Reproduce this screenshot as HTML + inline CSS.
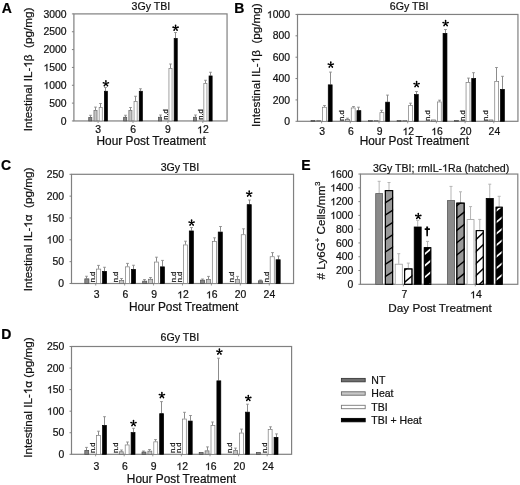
<!DOCTYPE html><html><head><meta charset="utf-8"><style>html,body{margin:0;padding:0;background:#fff;width:520px;height:485px;overflow:hidden}body{position:relative;font-family:"Liberation Sans", sans-serif}svg text{stroke:#111;stroke-width:0.22px;paint-order:stroke}tspan.one{fill:none;stroke:none}svg g path{stroke:#111;stroke-width:0.22px;vector-effect:non-scaling-stroke}</style></head><body><svg width="520" height="485" viewBox="0 0 520 485" style="position:absolute;left:0;top:0;filter:grayscale(1);font-family:&quot;Liberation Sans&quot;, sans-serif;fill:#111111">
<rect width="520" height="485" fill="#fff"/>
<rect x="73.9" y="13.9" width="153.15" height="107.05" fill="none" stroke="#808080" stroke-width="1.2"/>
<line x1="71.9" y1="120.95" x2="73.9" y2="120.95" stroke="#808080" stroke-width="1"/>
<text x="66.6" y="124.55" font-size="10.4" text-anchor="end">0</text>
<line x1="71.9" y1="103.11" x2="73.9" y2="103.11" stroke="#808080" stroke-width="1"/>
<text x="66.6" y="106.71" font-size="10.4" text-anchor="end">500</text>
<line x1="71.9" y1="85.27" x2="73.9" y2="85.27" stroke="#808080" stroke-width="1"/>
<text x="66.6" y="88.87" font-size="10.4" text-anchor="end"><tspan class="one">1</tspan>000</text>
<g><path d="M763 0L583 0L583 1098Q518 1039 415 981Q312 923 222 890L222 1057Q373 1125 484.5 1221Q596 1317 648 1409L763 1409Z" transform="translate(43.475,88.870) scale(0.005078,-0.005078)"/></g>
<line x1="71.9" y1="67.43" x2="73.9" y2="67.43" stroke="#808080" stroke-width="1"/>
<text x="66.6" y="71.03" font-size="10.4" text-anchor="end"><tspan class="one">1</tspan>500</text>
<g><path d="M763 0L583 0L583 1098Q518 1039 415 981Q312 923 222 890L222 1057Q373 1125 484.5 1221Q596 1317 648 1409L763 1409Z" transform="translate(43.475,71.030) scale(0.005078,-0.005078)"/></g>
<line x1="71.9" y1="49.58" x2="73.9" y2="49.58" stroke="#808080" stroke-width="1"/>
<text x="66.6" y="53.18" font-size="10.4" text-anchor="end">2000</text>
<line x1="71.9" y1="31.74" x2="73.9" y2="31.74" stroke="#808080" stroke-width="1"/>
<text x="66.6" y="35.34" font-size="10.4" text-anchor="end">2500</text>
<line x1="71.9" y1="13.90" x2="73.9" y2="13.90" stroke="#808080" stroke-width="1"/>
<text x="66.6" y="17.50" font-size="10.4" text-anchor="end">3000</text>
<line x1="98.10" y1="120.95" x2="98.10" y2="122.95" stroke="#808080" stroke-width="0.8"/>
<line x1="133.00" y1="120.95" x2="133.00" y2="122.95" stroke="#808080" stroke-width="0.8"/>
<line x1="167.90" y1="120.95" x2="167.90" y2="122.95" stroke="#808080" stroke-width="0.8"/>
<line x1="202.80" y1="120.95" x2="202.80" y2="122.95" stroke="#808080" stroke-width="0.8"/>
<line x1="90.50" y1="115.30" x2="90.50" y2="117.10" stroke="#8c8c8c" stroke-width="1"/>
<line x1="89.10" y1="115.30" x2="91.90" y2="115.30" stroke="#8c8c8c" stroke-width="0.9"/>
<rect x="88.75" y="117.45" width="3.10" height="3.50" fill="#858585" stroke="#4a4a4a" stroke-width="0.7"/>
<line x1="95.50" y1="107.10" x2="95.50" y2="110.00" stroke="#8c8c8c" stroke-width="1"/>
<line x1="94.10" y1="107.10" x2="96.90" y2="107.10" stroke="#8c8c8c" stroke-width="0.9"/>
<rect x="93.95" y="110.35" width="3.10" height="10.60" fill="#c4c4c4" stroke="#6a6a6a" stroke-width="0.7"/>
<line x1="100.50" y1="103.50" x2="100.50" y2="107.25" stroke="#8c8c8c" stroke-width="1"/>
<line x1="99.10" y1="103.50" x2="101.90" y2="103.50" stroke="#8c8c8c" stroke-width="0.9"/>
<rect x="99.15" y="107.60" width="3.10" height="13.35" fill="#ffffff" stroke="#7a7a7a" stroke-width="0.7"/>
<line x1="105.50" y1="87.50" x2="105.50" y2="90.90" stroke="#8c8c8c" stroke-width="1"/>
<line x1="104.10" y1="87.50" x2="106.90" y2="87.50" stroke="#8c8c8c" stroke-width="0.9"/>
<rect x="104.35" y="91.25" width="3.10" height="29.70" fill="#000000" stroke="#000000" stroke-width="0.7"/>
<line x1="125.50" y1="115.25" x2="125.50" y2="116.90" stroke="#8c8c8c" stroke-width="1"/>
<line x1="124.10" y1="115.25" x2="126.90" y2="115.25" stroke="#8c8c8c" stroke-width="0.9"/>
<rect x="123.65" y="117.25" width="3.10" height="3.70" fill="#858585" stroke="#4a4a4a" stroke-width="0.7"/>
<line x1="130.50" y1="107.50" x2="130.50" y2="110.25" stroke="#8c8c8c" stroke-width="1"/>
<line x1="129.10" y1="107.50" x2="131.90" y2="107.50" stroke="#8c8c8c" stroke-width="0.9"/>
<rect x="128.85" y="110.60" width="3.10" height="10.35" fill="#c4c4c4" stroke="#6a6a6a" stroke-width="0.7"/>
<line x1="135.50" y1="96.25" x2="135.50" y2="101.25" stroke="#8c8c8c" stroke-width="1"/>
<line x1="134.10" y1="96.25" x2="136.90" y2="96.25" stroke="#8c8c8c" stroke-width="0.9"/>
<rect x="134.05" y="101.60" width="3.10" height="19.35" fill="#ffffff" stroke="#7a7a7a" stroke-width="0.7"/>
<line x1="140.50" y1="88.75" x2="140.50" y2="90.90" stroke="#8c8c8c" stroke-width="1"/>
<line x1="139.10" y1="88.75" x2="141.90" y2="88.75" stroke="#8c8c8c" stroke-width="0.9"/>
<rect x="139.25" y="91.25" width="3.10" height="29.70" fill="#000000" stroke="#000000" stroke-width="0.7"/>
<line x1="160.50" y1="115.00" x2="160.50" y2="116.90" stroke="#8c8c8c" stroke-width="1"/>
<line x1="159.10" y1="115.00" x2="161.90" y2="115.00" stroke="#8c8c8c" stroke-width="0.9"/>
<rect x="158.55" y="117.25" width="3.10" height="3.70" fill="#858585" stroke="#4a4a4a" stroke-width="0.7"/>
<text transform="translate(167.80,119.75) rotate(-90)" font-size="7.6" text-anchor="start" stroke="#111111" stroke-width="0.25">n.d</text>
<line x1="170.50" y1="64.00" x2="170.50" y2="68.10" stroke="#8c8c8c" stroke-width="1"/>
<line x1="169.10" y1="64.00" x2="171.90" y2="64.00" stroke="#8c8c8c" stroke-width="0.9"/>
<rect x="168.95" y="68.45" width="3.10" height="52.50" fill="#ffffff" stroke="#7a7a7a" stroke-width="0.7"/>
<line x1="175.50" y1="32.50" x2="175.50" y2="38.10" stroke="#8c8c8c" stroke-width="1"/>
<line x1="174.10" y1="32.50" x2="176.90" y2="32.50" stroke="#8c8c8c" stroke-width="0.9"/>
<rect x="174.15" y="38.45" width="3.10" height="82.50" fill="#000000" stroke="#000000" stroke-width="0.7"/>
<line x1="195.50" y1="115.00" x2="195.50" y2="116.90" stroke="#8c8c8c" stroke-width="1"/>
<line x1="194.10" y1="115.00" x2="196.90" y2="115.00" stroke="#8c8c8c" stroke-width="0.9"/>
<rect x="193.45" y="117.25" width="3.10" height="3.70" fill="#858585" stroke="#4a4a4a" stroke-width="0.7"/>
<text transform="translate(202.70,119.75) rotate(-90)" font-size="7.6" text-anchor="start" stroke="#111111" stroke-width="0.25">n.d</text>
<line x1="205.50" y1="80.25" x2="205.50" y2="83.10" stroke="#8c8c8c" stroke-width="1"/>
<line x1="204.10" y1="80.25" x2="206.90" y2="80.25" stroke="#8c8c8c" stroke-width="0.9"/>
<rect x="203.85" y="83.45" width="3.10" height="37.50" fill="#ffffff" stroke="#7a7a7a" stroke-width="0.7"/>
<line x1="210.50" y1="72.25" x2="210.50" y2="75.60" stroke="#8c8c8c" stroke-width="1"/>
<line x1="209.10" y1="72.25" x2="211.90" y2="72.25" stroke="#8c8c8c" stroke-width="0.9"/>
<rect x="209.05" y="75.95" width="3.10" height="45.00" fill="#000000" stroke="#000000" stroke-width="0.7"/>
<path class="st" d="M106.30 83.60L106.75 80.90A0.85 0.85 0 0 0 105.05 80.90L105.50 83.60ZM106.02 83.98L108.73 83.57A0.85 0.85 0 0 0 108.21 81.96L105.78 83.22ZM105.58 83.84L106.80 86.28A0.85 0.85 0 0 0 108.17 85.28L106.22 83.36ZM105.58 83.36L103.63 85.28A0.85 0.85 0 0 0 105.00 86.28L106.22 83.84ZM106.02 83.22L103.59 81.96A0.85 0.85 0 0 0 103.07 83.57L105.78 83.98Z" fill="#000"/>
<path class="st" d="M176.00 28.00L176.45 25.30A0.85 0.85 0 0 0 174.75 25.30L175.20 28.00ZM175.72 28.38L178.43 27.97A0.85 0.85 0 0 0 177.91 26.36L175.48 27.62ZM175.28 28.24L176.50 30.68A0.85 0.85 0 0 0 177.87 29.68L175.92 27.76ZM175.28 27.76L173.33 29.68A0.85 0.85 0 0 0 174.70 30.68L175.92 28.24ZM175.72 27.62L173.29 26.36A0.85 0.85 0 0 0 172.77 27.97L175.48 28.38Z" fill="#000"/>
<text x="98.19999999999999" y="133.3" font-size="10.4" text-anchor="middle" >3</text>
<text x="133.1" y="133.3" font-size="10.4" text-anchor="middle" >6</text>
<text x="168.0" y="133.3" font-size="10.4" text-anchor="middle" >9</text>
<text x="202.9" y="133.3" font-size="10.4" text-anchor="middle" ><tspan class="one">1</tspan>2</text>
<g><path d="M763 0L583 0L583 1098Q518 1039 415 981Q312 923 222 890L222 1057Q373 1125 484.5 1221Q596 1317 648 1409L763 1409Z" transform="translate(197.119,133.300) scale(0.005078,-0.005078)"/></g>
<text x="151.2" y="145.2" font-size="11.85" text-anchor="middle" >Hour Post Treatment</text>
<text x="150.9" y="9.8" font-size="10.6" text-anchor="middle" >3Gy TBI</text>
<text transform="translate(32,69.5) rotate(-90)" font-size="11.7" text-anchor="middle" >Intestinal IL-<tspan class="one">1</tspan>β  (pg/mg)</text>
<g transform="translate(32,69.5) rotate(-90)"><path d="M763 0L583 0L583 1098Q518 1039 415 981Q312 923 222 890L222 1057Q373 1125 484.5 1221Q596 1317 648 1409L763 1409Z" transform="translate(1.836,0.000) scale(0.005713,-0.005713)"/></g>
<text x="1.7" y="13.0" font-size="14" text-anchor="start" font-weight="bold" fill="#000">A</text>
<rect x="297.5" y="14.45" width="220.45" height="106.85" fill="none" stroke="#808080" stroke-width="1.2"/>
<line x1="295.5" y1="121.30" x2="297.5" y2="121.30" stroke="#808080" stroke-width="1"/>
<text x="290.0" y="124.90" font-size="10.4" text-anchor="end">0</text>
<line x1="295.5" y1="99.93" x2="297.5" y2="99.93" stroke="#808080" stroke-width="1"/>
<text x="290.0" y="103.53" font-size="10.4" text-anchor="end">200</text>
<line x1="295.5" y1="78.56" x2="297.5" y2="78.56" stroke="#808080" stroke-width="1"/>
<text x="290.0" y="82.16" font-size="10.4" text-anchor="end">400</text>
<line x1="295.5" y1="57.19" x2="297.5" y2="57.19" stroke="#808080" stroke-width="1"/>
<text x="290.0" y="60.79" font-size="10.4" text-anchor="end">600</text>
<line x1="295.5" y1="35.82" x2="297.5" y2="35.82" stroke="#808080" stroke-width="1"/>
<text x="290.0" y="39.42" font-size="10.4" text-anchor="end">800</text>
<line x1="295.5" y1="14.45" x2="297.5" y2="14.45" stroke="#808080" stroke-width="1"/>
<text x="290.0" y="18.05" font-size="10.4" text-anchor="end"><tspan class="one">1</tspan>000</text>
<g><path d="M763 0L583 0L583 1098Q518 1039 415 981Q312 923 222 890L222 1057Q373 1125 484.5 1221Q596 1317 648 1409L763 1409Z" transform="translate(266.875,18.050) scale(0.005078,-0.005078)"/></g>
<line x1="321.60" y1="121.30" x2="321.60" y2="123.30" stroke="#808080" stroke-width="0.8"/>
<line x1="350.30" y1="121.30" x2="350.30" y2="123.30" stroke="#808080" stroke-width="0.8"/>
<line x1="379.00" y1="121.30" x2="379.00" y2="123.30" stroke="#808080" stroke-width="0.8"/>
<line x1="407.70" y1="121.30" x2="407.70" y2="123.30" stroke="#808080" stroke-width="0.8"/>
<line x1="436.40" y1="121.30" x2="436.40" y2="123.30" stroke="#808080" stroke-width="0.8"/>
<line x1="465.10" y1="121.30" x2="465.10" y2="123.30" stroke="#808080" stroke-width="0.8"/>
<line x1="493.80" y1="121.30" x2="493.80" y2="123.30" stroke="#808080" stroke-width="0.8"/>
<rect x="311.05" y="120.55" width="3.90" height="0.75" fill="#858585" stroke="#4a4a4a" stroke-width="0.7"/>
<rect x="316.75" y="120.55" width="3.90" height="0.75" fill="#c4c4c4" stroke="#6a6a6a" stroke-width="0.7"/>
<line x1="324.50" y1="105.50" x2="324.50" y2="106.90" stroke="#8c8c8c" stroke-width="1"/>
<line x1="323.10" y1="105.50" x2="325.90" y2="105.50" stroke="#8c8c8c" stroke-width="0.9"/>
<rect x="322.55" y="107.25" width="3.90" height="14.05" fill="#ffffff" stroke="#7a7a7a" stroke-width="0.7"/>
<line x1="330.50" y1="72.10" x2="330.50" y2="84.50" stroke="#8c8c8c" stroke-width="1"/>
<line x1="329.10" y1="72.10" x2="331.90" y2="72.10" stroke="#8c8c8c" stroke-width="0.9"/>
<rect x="328.25" y="84.85" width="3.90" height="36.45" fill="#000000" stroke="#000000" stroke-width="0.7"/>
<text transform="translate(344.20,120.90) rotate(-90)" font-size="7.6" text-anchor="start" stroke="#111111" stroke-width="0.25">n.d</text>
<line x1="347.50" y1="118.20" x2="347.50" y2="119.00" stroke="#8c8c8c" stroke-width="1"/>
<line x1="346.10" y1="118.20" x2="348.90" y2="118.20" stroke="#8c8c8c" stroke-width="0.9"/>
<rect x="345.45" y="119.35" width="3.90" height="1.95" fill="#c4c4c4" stroke="#6a6a6a" stroke-width="0.7"/>
<line x1="353.50" y1="106.50" x2="353.50" y2="107.60" stroke="#8c8c8c" stroke-width="1"/>
<line x1="352.10" y1="106.50" x2="354.90" y2="106.50" stroke="#8c8c8c" stroke-width="0.9"/>
<rect x="351.25" y="107.95" width="3.90" height="13.35" fill="#ffffff" stroke="#7a7a7a" stroke-width="0.7"/>
<line x1="358.50" y1="107.20" x2="358.50" y2="110.30" stroke="#8c8c8c" stroke-width="1"/>
<line x1="357.10" y1="107.20" x2="359.90" y2="107.20" stroke="#8c8c8c" stroke-width="0.9"/>
<rect x="356.95" y="110.65" width="3.90" height="10.65" fill="#000000" stroke="#000000" stroke-width="0.7"/>
<rect x="368.45" y="120.55" width="3.90" height="0.75" fill="#858585" stroke="#4a4a4a" stroke-width="0.7"/>
<rect x="374.15" y="120.55" width="3.90" height="0.75" fill="#c4c4c4" stroke="#6a6a6a" stroke-width="0.7"/>
<line x1="381.50" y1="110.30" x2="381.50" y2="112.30" stroke="#8c8c8c" stroke-width="1"/>
<line x1="380.10" y1="110.30" x2="382.90" y2="110.30" stroke="#8c8c8c" stroke-width="0.9"/>
<rect x="379.95" y="112.65" width="3.90" height="8.65" fill="#ffffff" stroke="#7a7a7a" stroke-width="0.7"/>
<line x1="387.50" y1="95.10" x2="387.50" y2="101.80" stroke="#8c8c8c" stroke-width="1"/>
<line x1="386.10" y1="95.10" x2="388.90" y2="95.10" stroke="#8c8c8c" stroke-width="0.9"/>
<rect x="385.65" y="102.15" width="3.90" height="19.15" fill="#000000" stroke="#000000" stroke-width="0.7"/>
<rect x="397.15" y="120.55" width="3.90" height="0.75" fill="#858585" stroke="#4a4a4a" stroke-width="0.7"/>
<rect x="402.85" y="120.55" width="3.90" height="0.75" fill="#c4c4c4" stroke="#6a6a6a" stroke-width="0.7"/>
<line x1="410.50" y1="103.20" x2="410.50" y2="105.20" stroke="#8c8c8c" stroke-width="1"/>
<line x1="409.10" y1="103.20" x2="411.90" y2="103.20" stroke="#8c8c8c" stroke-width="0.9"/>
<rect x="408.65" y="105.55" width="3.90" height="15.75" fill="#ffffff" stroke="#7a7a7a" stroke-width="0.7"/>
<line x1="416.50" y1="91.50" x2="416.50" y2="94.20" stroke="#8c8c8c" stroke-width="1"/>
<line x1="415.10" y1="91.50" x2="417.90" y2="91.50" stroke="#8c8c8c" stroke-width="0.9"/>
<rect x="414.35" y="94.55" width="3.90" height="26.75" fill="#000000" stroke="#000000" stroke-width="0.7"/>
<text transform="translate(430.30,120.90) rotate(-90)" font-size="7.6" text-anchor="start" stroke="#111111" stroke-width="0.25">n.d</text>
<rect x="431.55" y="119.95" width="3.90" height="1.35" fill="#c4c4c4" stroke="#6a6a6a" stroke-width="0.7"/>
<line x1="439.50" y1="100.20" x2="439.50" y2="101.60" stroke="#8c8c8c" stroke-width="1"/>
<line x1="438.10" y1="100.20" x2="440.90" y2="100.20" stroke="#8c8c8c" stroke-width="0.9"/>
<rect x="437.35" y="101.95" width="3.90" height="19.35" fill="#ffffff" stroke="#7a7a7a" stroke-width="0.7"/>
<line x1="445.50" y1="29.50" x2="445.50" y2="33.00" stroke="#8c8c8c" stroke-width="1"/>
<line x1="444.10" y1="29.50" x2="446.90" y2="29.50" stroke="#8c8c8c" stroke-width="0.9"/>
<rect x="443.05" y="33.35" width="3.90" height="87.95" fill="#000000" stroke="#000000" stroke-width="0.7"/>
<rect x="454.55" y="120.55" width="3.90" height="0.75" fill="#858585" stroke="#4a4a4a" stroke-width="0.7"/>
<text transform="translate(464.70,120.90) rotate(-90)" font-size="7.6" text-anchor="start" stroke="#111111" stroke-width="0.25">n.d</text>
<line x1="468.50" y1="78.10" x2="468.50" y2="82.10" stroke="#8c8c8c" stroke-width="1"/>
<line x1="467.10" y1="78.10" x2="469.90" y2="78.10" stroke="#8c8c8c" stroke-width="0.9"/>
<rect x="466.05" y="82.45" width="3.90" height="38.85" fill="#ffffff" stroke="#7a7a7a" stroke-width="0.7"/>
<line x1="473.50" y1="72.70" x2="473.50" y2="78.10" stroke="#8c8c8c" stroke-width="1"/>
<line x1="472.10" y1="72.70" x2="474.90" y2="72.70" stroke="#8c8c8c" stroke-width="0.9"/>
<rect x="471.75" y="78.45" width="3.90" height="42.85" fill="#000000" stroke="#000000" stroke-width="0.7"/>
<text transform="translate(487.70,120.90) rotate(-90)" font-size="7.6" text-anchor="start" stroke="#111111" stroke-width="0.25">n.d</text>
<rect x="488.95" y="119.95" width="3.90" height="1.35" fill="#c4c4c4" stroke="#6a6a6a" stroke-width="0.7"/>
<line x1="496.50" y1="67.50" x2="496.50" y2="81.00" stroke="#8c8c8c" stroke-width="1"/>
<line x1="495.10" y1="67.50" x2="497.90" y2="67.50" stroke="#8c8c8c" stroke-width="0.9"/>
<rect x="494.75" y="81.35" width="3.90" height="39.95" fill="#ffffff" stroke="#7a7a7a" stroke-width="0.7"/>
<line x1="502.50" y1="76.30" x2="502.50" y2="89.00" stroke="#8c8c8c" stroke-width="1"/>
<line x1="501.10" y1="76.30" x2="503.90" y2="76.30" stroke="#8c8c8c" stroke-width="0.9"/>
<rect x="500.45" y="89.35" width="3.90" height="31.95" fill="#000000" stroke="#000000" stroke-width="0.7"/>
<path class="st" d="M331.20 64.90L331.65 62.20A0.85 0.85 0 0 0 329.95 62.20L330.40 64.90ZM330.92 65.28L333.63 64.87A0.85 0.85 0 0 0 333.11 63.26L330.68 64.52ZM330.48 65.14L331.70 67.58A0.85 0.85 0 0 0 333.07 66.58L331.12 64.66ZM330.48 64.66L328.53 66.58A0.85 0.85 0 0 0 329.90 67.58L331.12 65.14ZM330.92 64.52L328.49 63.26A0.85 0.85 0 0 0 327.97 64.87L330.68 65.28Z" fill="#000"/>
<path class="st" d="M417.00 84.40L417.45 81.70A0.85 0.85 0 0 0 415.75 81.70L416.20 84.40ZM416.72 84.78L419.43 84.37A0.85 0.85 0 0 0 418.91 82.76L416.48 84.02ZM416.28 84.64L417.50 87.08A0.85 0.85 0 0 0 418.87 86.08L416.92 84.16ZM416.28 84.16L414.33 86.08A0.85 0.85 0 0 0 415.70 87.08L416.92 84.64ZM416.72 84.02L414.29 82.76A0.85 0.85 0 0 0 413.77 84.37L416.48 84.78Z" fill="#000"/>
<path class="st" d="M446.00 23.40L446.45 20.70A0.85 0.85 0 0 0 444.75 20.70L445.20 23.40ZM445.72 23.78L448.43 23.37A0.85 0.85 0 0 0 447.91 21.76L445.48 23.02ZM445.28 23.64L446.50 26.08A0.85 0.85 0 0 0 447.87 25.08L445.92 23.16ZM445.28 23.16L443.33 25.08A0.85 0.85 0 0 0 444.70 26.08L445.92 23.64ZM445.72 23.02L443.29 21.76A0.85 0.85 0 0 0 442.77 23.37L445.48 23.78Z" fill="#000"/>
<text x="322.20000000000005" y="135.0" font-size="10.4" text-anchor="middle" >3</text>
<text x="350.90000000000003" y="135.0" font-size="10.4" text-anchor="middle" >6</text>
<text x="379.6" y="135.0" font-size="10.4" text-anchor="middle" >9</text>
<text x="408.30000000000007" y="135.0" font-size="10.4" text-anchor="middle" ><tspan class="one">1</tspan>2</text>
<g><path d="M763 0L583 0L583 1098Q518 1039 415 981Q312 923 222 890L222 1057Q373 1125 484.5 1221Q596 1317 648 1409L763 1409Z" transform="translate(402.519,135.000) scale(0.005078,-0.005078)"/></g>
<text x="437.00000000000006" y="135.0" font-size="10.4" text-anchor="middle" ><tspan class="one">1</tspan>6</text>
<g><path d="M763 0L583 0L583 1098Q518 1039 415 981Q312 923 222 890L222 1057Q373 1125 484.5 1221Q596 1317 648 1409L763 1409Z" transform="translate(431.219,135.000) scale(0.005078,-0.005078)"/></g>
<text x="465.70000000000005" y="135.0" font-size="10.4" text-anchor="middle" >20</text>
<text x="494.40000000000003" y="135.0" font-size="10.4" text-anchor="middle" >24</text>
<text x="414.3" y="145.4" font-size="11.85" text-anchor="middle" >Hour Post Treatment</text>
<text x="409.1" y="9.8" font-size="10.6" text-anchor="middle" >6Gy TBI</text>
<text transform="translate(259.5,65.1) rotate(-90)" font-size="11.7" text-anchor="middle" >Intestinal IL-<tspan class="one">1</tspan>β  (pg/mg)</text>
<g transform="translate(259.5,65.1) rotate(-90)"><path d="M763 0L583 0L583 1098Q518 1039 415 981Q312 923 222 890L222 1057Q373 1125 484.5 1221Q596 1317 648 1409L763 1409Z" transform="translate(1.836,0.000) scale(0.005713,-0.005713)"/></g>
<text x="234.3" y="12.5" font-size="14" text-anchor="start" font-weight="bold" fill="#000">B</text>
<rect x="71.5" y="174.3" width="222.05" height="109.20" fill="none" stroke="#808080" stroke-width="1.2"/>
<line x1="69.5" y1="283.50" x2="71.5" y2="283.50" stroke="#808080" stroke-width="1"/>
<text x="64" y="287.10" font-size="10.4" text-anchor="end">0</text>
<line x1="69.5" y1="261.66" x2="71.5" y2="261.66" stroke="#808080" stroke-width="1"/>
<text x="64" y="265.26" font-size="10.4" text-anchor="end">50</text>
<line x1="69.5" y1="239.82" x2="71.5" y2="239.82" stroke="#808080" stroke-width="1"/>
<text x="64" y="243.42" font-size="10.4" text-anchor="end"><tspan class="one">1</tspan>00</text>
<g><path d="M763 0L583 0L583 1098Q518 1039 415 981Q312 923 222 890L222 1057Q373 1125 484.5 1221Q596 1317 648 1409L763 1409Z" transform="translate(46.656,243.420) scale(0.005078,-0.005078)"/></g>
<line x1="69.5" y1="217.98" x2="71.5" y2="217.98" stroke="#808080" stroke-width="1"/>
<text x="64" y="221.58" font-size="10.4" text-anchor="end"><tspan class="one">1</tspan>50</text>
<g><path d="M763 0L583 0L583 1098Q518 1039 415 981Q312 923 222 890L222 1057Q373 1125 484.5 1221Q596 1317 648 1409L763 1409Z" transform="translate(46.656,221.580) scale(0.005078,-0.005078)"/></g>
<line x1="69.5" y1="196.14" x2="71.5" y2="196.14" stroke="#808080" stroke-width="1"/>
<text x="64" y="199.74" font-size="10.4" text-anchor="end">200</text>
<line x1="69.5" y1="174.30" x2="71.5" y2="174.30" stroke="#808080" stroke-width="1"/>
<text x="64" y="177.90" font-size="10.4" text-anchor="end">250</text>
<line x1="95.70" y1="283.50" x2="95.70" y2="285.50" stroke="#808080" stroke-width="0.8"/>
<line x1="124.63" y1="283.50" x2="124.63" y2="285.50" stroke="#808080" stroke-width="0.8"/>
<line x1="153.56" y1="283.50" x2="153.56" y2="285.50" stroke="#808080" stroke-width="0.8"/>
<line x1="182.49" y1="283.50" x2="182.49" y2="285.50" stroke="#808080" stroke-width="0.8"/>
<line x1="211.42" y1="283.50" x2="211.42" y2="285.50" stroke="#808080" stroke-width="0.8"/>
<line x1="240.35" y1="283.50" x2="240.35" y2="285.50" stroke="#808080" stroke-width="0.8"/>
<line x1="269.28" y1="283.50" x2="269.28" y2="285.50" stroke="#808080" stroke-width="0.8"/>
<line x1="86.50" y1="276.25" x2="86.50" y2="278.50" stroke="#8c8c8c" stroke-width="1"/>
<line x1="85.10" y1="276.25" x2="87.90" y2="276.25" stroke="#8c8c8c" stroke-width="0.9"/>
<rect x="84.80" y="278.85" width="4.10" height="4.65" fill="#858585" stroke="#4a4a4a" stroke-width="0.7"/>
<text transform="translate(95.25,282.30) rotate(-90)" font-size="7.6" text-anchor="start" stroke="#111111" stroke-width="0.25">n.d</text>
<line x1="98.50" y1="265.40" x2="98.50" y2="268.75" stroke="#8c8c8c" stroke-width="1"/>
<line x1="97.10" y1="265.40" x2="99.90" y2="265.40" stroke="#8c8c8c" stroke-width="0.9"/>
<rect x="96.60" y="269.10" width="4.10" height="14.40" fill="#ffffff" stroke="#7a7a7a" stroke-width="0.7"/>
<line x1="104.50" y1="267.25" x2="104.50" y2="271.00" stroke="#8c8c8c" stroke-width="1"/>
<line x1="103.10" y1="267.25" x2="105.90" y2="267.25" stroke="#8c8c8c" stroke-width="0.9"/>
<rect x="102.50" y="271.35" width="4.10" height="12.15" fill="#000000" stroke="#000000" stroke-width="0.7"/>
<text transform="translate(118.28,282.30) rotate(-90)" font-size="7.6" text-anchor="start" stroke="#111111" stroke-width="0.25">n.d</text>
<line x1="121.50" y1="278.50" x2="121.50" y2="280.00" stroke="#8c8c8c" stroke-width="1"/>
<line x1="120.10" y1="278.50" x2="122.90" y2="278.50" stroke="#8c8c8c" stroke-width="0.9"/>
<rect x="119.63" y="280.35" width="4.10" height="3.15" fill="#c4c4c4" stroke="#6a6a6a" stroke-width="0.7"/>
<line x1="127.50" y1="263.40" x2="127.50" y2="266.50" stroke="#8c8c8c" stroke-width="1"/>
<line x1="126.10" y1="263.40" x2="128.90" y2="263.40" stroke="#8c8c8c" stroke-width="0.9"/>
<rect x="125.53" y="266.85" width="4.10" height="16.65" fill="#ffffff" stroke="#7a7a7a" stroke-width="0.7"/>
<line x1="133.50" y1="265.25" x2="133.50" y2="269.00" stroke="#8c8c8c" stroke-width="1"/>
<line x1="132.10" y1="265.25" x2="134.90" y2="265.25" stroke="#8c8c8c" stroke-width="0.9"/>
<rect x="131.43" y="269.35" width="4.10" height="14.15" fill="#000000" stroke="#000000" stroke-width="0.7"/>
<line x1="144.50" y1="279.50" x2="144.50" y2="280.80" stroke="#8c8c8c" stroke-width="1"/>
<line x1="143.10" y1="279.50" x2="145.90" y2="279.50" stroke="#8c8c8c" stroke-width="0.9"/>
<rect x="142.66" y="281.15" width="4.10" height="2.35" fill="#858585" stroke="#4a4a4a" stroke-width="0.7"/>
<line x1="150.50" y1="277.50" x2="150.50" y2="278.90" stroke="#8c8c8c" stroke-width="1"/>
<line x1="149.10" y1="277.50" x2="151.90" y2="277.50" stroke="#8c8c8c" stroke-width="0.9"/>
<rect x="148.56" y="279.25" width="4.10" height="4.25" fill="#c4c4c4" stroke="#6a6a6a" stroke-width="0.7"/>
<line x1="156.50" y1="257.20" x2="156.50" y2="261.70" stroke="#8c8c8c" stroke-width="1"/>
<line x1="155.10" y1="257.20" x2="157.90" y2="257.20" stroke="#8c8c8c" stroke-width="0.9"/>
<rect x="154.46" y="262.05" width="4.10" height="21.45" fill="#ffffff" stroke="#7a7a7a" stroke-width="0.7"/>
<line x1="162.50" y1="260.40" x2="162.50" y2="266.50" stroke="#8c8c8c" stroke-width="1"/>
<line x1="161.10" y1="260.40" x2="163.90" y2="260.40" stroke="#8c8c8c" stroke-width="0.9"/>
<rect x="160.36" y="266.85" width="4.10" height="16.65" fill="#000000" stroke="#000000" stroke-width="0.7"/>
<text transform="translate(176.14,282.30) rotate(-90)" font-size="7.6" text-anchor="start" stroke="#111111" stroke-width="0.25">n.d</text>
<text transform="translate(182.04,282.30) rotate(-90)" font-size="7.6" text-anchor="start" stroke="#111111" stroke-width="0.25">n.d</text>
<line x1="185.50" y1="241.20" x2="185.50" y2="244.60" stroke="#8c8c8c" stroke-width="1"/>
<line x1="184.10" y1="241.20" x2="186.90" y2="241.20" stroke="#8c8c8c" stroke-width="0.9"/>
<rect x="183.39" y="244.95" width="4.10" height="38.55" fill="#ffffff" stroke="#7a7a7a" stroke-width="0.7"/>
<line x1="191.50" y1="227.50" x2="191.50" y2="230.60" stroke="#8c8c8c" stroke-width="1"/>
<line x1="190.10" y1="227.50" x2="192.90" y2="227.50" stroke="#8c8c8c" stroke-width="0.9"/>
<rect x="189.29" y="230.95" width="4.10" height="52.55" fill="#000000" stroke="#000000" stroke-width="0.7"/>
<line x1="202.50" y1="279.00" x2="202.50" y2="279.80" stroke="#8c8c8c" stroke-width="1"/>
<line x1="201.10" y1="279.00" x2="203.90" y2="279.00" stroke="#8c8c8c" stroke-width="0.9"/>
<rect x="200.52" y="280.15" width="4.10" height="3.35" fill="#858585" stroke="#4a4a4a" stroke-width="0.7"/>
<line x1="208.50" y1="276.40" x2="208.50" y2="279.10" stroke="#8c8c8c" stroke-width="1"/>
<line x1="207.10" y1="276.40" x2="209.90" y2="276.40" stroke="#8c8c8c" stroke-width="0.9"/>
<rect x="206.42" y="279.45" width="4.10" height="4.05" fill="#c4c4c4" stroke="#6a6a6a" stroke-width="0.7"/>
<line x1="214.50" y1="237.80" x2="214.50" y2="241.20" stroke="#8c8c8c" stroke-width="1"/>
<line x1="213.10" y1="237.80" x2="215.90" y2="237.80" stroke="#8c8c8c" stroke-width="0.9"/>
<rect x="212.32" y="241.55" width="4.10" height="41.95" fill="#ffffff" stroke="#7a7a7a" stroke-width="0.7"/>
<line x1="220.50" y1="226.50" x2="220.50" y2="231.70" stroke="#8c8c8c" stroke-width="1"/>
<line x1="219.10" y1="226.50" x2="221.90" y2="226.50" stroke="#8c8c8c" stroke-width="0.9"/>
<rect x="218.22" y="232.05" width="4.10" height="51.45" fill="#000000" stroke="#000000" stroke-width="0.7"/>
<text transform="translate(234.00,282.30) rotate(-90)" font-size="7.6" text-anchor="start" stroke="#111111" stroke-width="0.25">n.d</text>
<line x1="237.50" y1="276.40" x2="237.50" y2="279.10" stroke="#8c8c8c" stroke-width="1"/>
<line x1="236.10" y1="276.40" x2="238.90" y2="276.40" stroke="#8c8c8c" stroke-width="0.9"/>
<rect x="235.35" y="279.45" width="4.10" height="4.05" fill="#c4c4c4" stroke="#6a6a6a" stroke-width="0.7"/>
<line x1="243.50" y1="228.80" x2="243.50" y2="234.40" stroke="#8c8c8c" stroke-width="1"/>
<line x1="242.10" y1="228.80" x2="244.90" y2="228.80" stroke="#8c8c8c" stroke-width="0.9"/>
<rect x="241.25" y="234.75" width="4.10" height="48.75" fill="#ffffff" stroke="#7a7a7a" stroke-width="0.7"/>
<line x1="249.50" y1="200.00" x2="249.50" y2="204.30" stroke="#8c8c8c" stroke-width="1"/>
<line x1="248.10" y1="200.00" x2="250.90" y2="200.00" stroke="#8c8c8c" stroke-width="0.9"/>
<rect x="247.15" y="204.65" width="4.10" height="78.85" fill="#000000" stroke="#000000" stroke-width="0.7"/>
<line x1="260.50" y1="280.00" x2="260.50" y2="280.50" stroke="#8c8c8c" stroke-width="1"/>
<line x1="259.10" y1="280.00" x2="261.90" y2="280.00" stroke="#8c8c8c" stroke-width="0.9"/>
<rect x="258.38" y="280.85" width="4.10" height="2.65" fill="#858585" stroke="#4a4a4a" stroke-width="0.7"/>
<text transform="translate(268.83,282.30) rotate(-90)" font-size="7.6" text-anchor="start" stroke="#111111" stroke-width="0.25">n.d</text>
<line x1="272.50" y1="252.60" x2="272.50" y2="256.40" stroke="#8c8c8c" stroke-width="1"/>
<line x1="271.10" y1="252.60" x2="273.90" y2="252.60" stroke="#8c8c8c" stroke-width="0.9"/>
<rect x="270.18" y="256.75" width="4.10" height="26.75" fill="#ffffff" stroke="#7a7a7a" stroke-width="0.7"/>
<line x1="278.50" y1="256.00" x2="278.50" y2="259.40" stroke="#8c8c8c" stroke-width="1"/>
<line x1="277.10" y1="256.00" x2="279.90" y2="256.00" stroke="#8c8c8c" stroke-width="0.9"/>
<rect x="276.08" y="259.75" width="4.10" height="23.75" fill="#000000" stroke="#000000" stroke-width="0.7"/>
<path class="st" d="M192.00 222.90L192.45 220.20A0.85 0.85 0 0 0 190.75 220.20L191.20 222.90ZM191.72 223.28L194.43 222.87A0.85 0.85 0 0 0 193.91 221.26L191.48 222.52ZM191.28 223.14L192.50 225.58A0.85 0.85 0 0 0 193.87 224.58L191.92 222.66ZM191.28 222.66L189.33 224.58A0.85 0.85 0 0 0 190.70 225.58L191.92 223.14ZM191.72 222.52L189.29 221.26A0.85 0.85 0 0 0 188.77 222.87L191.48 223.28Z" fill="#000"/>
<path class="st" d="M249.60 193.90L250.05 191.20A0.85 0.85 0 0 0 248.35 191.20L248.80 193.90ZM249.32 194.28L252.03 193.87A0.85 0.85 0 0 0 251.51 192.26L249.08 193.52ZM248.88 194.14L250.10 196.58A0.85 0.85 0 0 0 251.47 195.58L249.52 193.66ZM248.88 193.66L246.93 195.58A0.85 0.85 0 0 0 248.30 196.58L249.52 194.14ZM249.32 193.52L246.89 192.26A0.85 0.85 0 0 0 246.37 193.87L249.08 194.28Z" fill="#000"/>
<text x="96.6" y="298.3" font-size="10.4" text-anchor="middle" >3</text>
<text x="125.39999999999999" y="298.3" font-size="10.4" text-anchor="middle" >6</text>
<text x="154.2" y="298.3" font-size="10.4" text-anchor="middle" >9</text>
<text x="183.0" y="298.3" font-size="10.4" text-anchor="middle" ><tspan class="one">1</tspan>2</text>
<g><path d="M763 0L583 0L583 1098Q518 1039 415 981Q312 923 222 890L222 1057Q373 1125 484.5 1221Q596 1317 648 1409L763 1409Z" transform="translate(177.219,298.300) scale(0.005078,-0.005078)"/></g>
<text x="211.8" y="298.3" font-size="10.4" text-anchor="middle" ><tspan class="one">1</tspan>6</text>
<g><path d="M763 0L583 0L583 1098Q518 1039 415 981Q312 923 222 890L222 1057Q373 1125 484.5 1221Q596 1317 648 1409L763 1409Z" transform="translate(206.019,298.300) scale(0.005078,-0.005078)"/></g>
<text x="240.6" y="298.3" font-size="10.4" text-anchor="middle" >20</text>
<text x="269.4" y="298.3" font-size="10.4" text-anchor="middle" >24</text>
<text x="183.6" y="310.8" font-size="11.85" text-anchor="middle" >Hour Post Treatment</text>
<text x="180.0" y="170.8" font-size="10.6" text-anchor="middle" >3Gy TBI</text>
<text transform="translate(32.2,229.5) rotate(-90)" font-size="11.7" text-anchor="middle" >Intestinal IL-<tspan class="one">1</tspan>α  (pg/mg)</text>
<g transform="translate(32.2,229.5) rotate(-90)"><path d="M763 0L583 0L583 1098Q518 1039 415 981Q312 923 222 890L222 1057Q373 1125 484.5 1221Q596 1317 648 1409L763 1409Z" transform="translate(1.812,0.000) scale(0.005713,-0.005713)"/></g>
<text x="1.0" y="170.3" font-size="14" text-anchor="start" font-weight="bold" fill="#000">C</text>
<rect x="71.5" y="346.5" width="220.10" height="107.80" fill="none" stroke="#808080" stroke-width="1.2"/>
<line x1="69.5" y1="454.30" x2="71.5" y2="454.30" stroke="#808080" stroke-width="1"/>
<text x="64.3" y="457.90" font-size="10.4" text-anchor="end">0</text>
<line x1="69.5" y1="432.74" x2="71.5" y2="432.74" stroke="#808080" stroke-width="1"/>
<text x="64.3" y="436.34" font-size="10.4" text-anchor="end">50</text>
<line x1="69.5" y1="411.18" x2="71.5" y2="411.18" stroke="#808080" stroke-width="1"/>
<text x="64.3" y="414.78" font-size="10.4" text-anchor="end"><tspan class="one">1</tspan>00</text>
<g><path d="M763 0L583 0L583 1098Q518 1039 415 981Q312 923 222 890L222 1057Q373 1125 484.5 1221Q596 1317 648 1409L763 1409Z" transform="translate(46.956,414.780) scale(0.005078,-0.005078)"/></g>
<line x1="69.5" y1="389.62" x2="71.5" y2="389.62" stroke="#808080" stroke-width="1"/>
<text x="64.3" y="393.22" font-size="10.4" text-anchor="end"><tspan class="one">1</tspan>50</text>
<g><path d="M763 0L583 0L583 1098Q518 1039 415 981Q312 923 222 890L222 1057Q373 1125 484.5 1221Q596 1317 648 1409L763 1409Z" transform="translate(46.956,393.220) scale(0.005078,-0.005078)"/></g>
<line x1="69.5" y1="368.06" x2="71.5" y2="368.06" stroke="#808080" stroke-width="1"/>
<text x="64.3" y="371.66" font-size="10.4" text-anchor="end">200</text>
<line x1="69.5" y1="346.50" x2="71.5" y2="346.50" stroke="#808080" stroke-width="1"/>
<text x="64.3" y="350.10" font-size="10.4" text-anchor="end">250</text>
<line x1="95.60" y1="454.30" x2="95.60" y2="456.30" stroke="#808080" stroke-width="0.8"/>
<line x1="124.20" y1="454.30" x2="124.20" y2="456.30" stroke="#808080" stroke-width="0.8"/>
<line x1="152.80" y1="454.30" x2="152.80" y2="456.30" stroke="#808080" stroke-width="0.8"/>
<line x1="181.40" y1="454.30" x2="181.40" y2="456.30" stroke="#808080" stroke-width="0.8"/>
<line x1="210.00" y1="454.30" x2="210.00" y2="456.30" stroke="#808080" stroke-width="0.8"/>
<line x1="238.60" y1="454.30" x2="238.60" y2="456.30" stroke="#808080" stroke-width="0.8"/>
<line x1="267.20" y1="454.30" x2="267.20" y2="456.30" stroke="#808080" stroke-width="0.8"/>
<line x1="86.50" y1="447.40" x2="86.50" y2="450.00" stroke="#8c8c8c" stroke-width="1"/>
<line x1="85.10" y1="447.40" x2="87.90" y2="447.40" stroke="#8c8c8c" stroke-width="0.9"/>
<rect x="84.80" y="450.35" width="3.90" height="3.95" fill="#858585" stroke="#4a4a4a" stroke-width="0.7"/>
<text transform="translate(95.15,453.10) rotate(-90)" font-size="7.6" text-anchor="start" stroke="#111111" stroke-width="0.25">n.d</text>
<line x1="98.50" y1="431.20" x2="98.50" y2="435.10" stroke="#8c8c8c" stroke-width="1"/>
<line x1="97.10" y1="431.20" x2="99.90" y2="431.20" stroke="#8c8c8c" stroke-width="0.9"/>
<rect x="96.60" y="435.45" width="3.90" height="18.85" fill="#ffffff" stroke="#7a7a7a" stroke-width="0.7"/>
<line x1="104.50" y1="416.70" x2="104.50" y2="425.00" stroke="#8c8c8c" stroke-width="1"/>
<line x1="103.10" y1="416.70" x2="105.90" y2="416.70" stroke="#8c8c8c" stroke-width="0.9"/>
<rect x="102.50" y="425.35" width="3.90" height="28.95" fill="#000000" stroke="#000000" stroke-width="0.7"/>
<text transform="translate(117.85,453.10) rotate(-90)" font-size="7.6" text-anchor="start" stroke="#111111" stroke-width="0.25">n.d</text>
<line x1="121.50" y1="450.00" x2="121.50" y2="451.40" stroke="#8c8c8c" stroke-width="1"/>
<line x1="120.10" y1="450.00" x2="122.90" y2="450.00" stroke="#8c8c8c" stroke-width="0.9"/>
<rect x="119.30" y="451.75" width="3.90" height="2.55" fill="#c4c4c4" stroke="#6a6a6a" stroke-width="0.7"/>
<line x1="127.50" y1="442.00" x2="127.50" y2="444.60" stroke="#8c8c8c" stroke-width="1"/>
<line x1="126.10" y1="442.00" x2="128.90" y2="442.00" stroke="#8c8c8c" stroke-width="0.9"/>
<rect x="125.20" y="444.95" width="3.90" height="9.35" fill="#ffffff" stroke="#7a7a7a" stroke-width="0.7"/>
<line x1="133.50" y1="428.30" x2="133.50" y2="432.20" stroke="#8c8c8c" stroke-width="1"/>
<line x1="132.10" y1="428.30" x2="134.90" y2="428.30" stroke="#8c8c8c" stroke-width="0.9"/>
<rect x="131.10" y="432.55" width="3.90" height="21.75" fill="#000000" stroke="#000000" stroke-width="0.7"/>
<line x1="143.50" y1="451.00" x2="143.50" y2="451.70" stroke="#8c8c8c" stroke-width="1"/>
<line x1="142.10" y1="451.00" x2="144.90" y2="451.00" stroke="#8c8c8c" stroke-width="0.9"/>
<rect x="142.00" y="452.05" width="3.90" height="2.25" fill="#858585" stroke="#4a4a4a" stroke-width="0.7"/>
<line x1="149.50" y1="449.50" x2="149.50" y2="450.80" stroke="#8c8c8c" stroke-width="1"/>
<line x1="148.10" y1="449.50" x2="150.90" y2="449.50" stroke="#8c8c8c" stroke-width="0.9"/>
<rect x="147.90" y="451.15" width="3.90" height="3.15" fill="#c4c4c4" stroke="#6a6a6a" stroke-width="0.7"/>
<line x1="155.50" y1="439.60" x2="155.50" y2="441.50" stroke="#8c8c8c" stroke-width="1"/>
<line x1="154.10" y1="439.60" x2="156.90" y2="439.60" stroke="#8c8c8c" stroke-width="0.9"/>
<rect x="153.80" y="441.85" width="3.90" height="12.45" fill="#ffffff" stroke="#7a7a7a" stroke-width="0.7"/>
<line x1="161.50" y1="401.60" x2="161.50" y2="413.30" stroke="#8c8c8c" stroke-width="1"/>
<line x1="160.10" y1="401.60" x2="162.90" y2="401.60" stroke="#8c8c8c" stroke-width="0.9"/>
<rect x="159.70" y="413.65" width="3.90" height="40.65" fill="#000000" stroke="#000000" stroke-width="0.7"/>
<text transform="translate(175.05,453.10) rotate(-90)" font-size="7.6" text-anchor="start" stroke="#111111" stroke-width="0.25">n.d</text>
<text transform="translate(180.95,453.10) rotate(-90)" font-size="7.6" text-anchor="start" stroke="#111111" stroke-width="0.25">n.d</text>
<line x1="184.50" y1="412.30" x2="184.50" y2="418.70" stroke="#8c8c8c" stroke-width="1"/>
<line x1="183.10" y1="412.30" x2="185.90" y2="412.30" stroke="#8c8c8c" stroke-width="0.9"/>
<rect x="182.40" y="419.05" width="3.90" height="35.25" fill="#ffffff" stroke="#7a7a7a" stroke-width="0.7"/>
<line x1="190.50" y1="415.50" x2="190.50" y2="420.70" stroke="#8c8c8c" stroke-width="1"/>
<line x1="189.10" y1="415.50" x2="191.90" y2="415.50" stroke="#8c8c8c" stroke-width="0.9"/>
<rect x="188.30" y="421.05" width="3.90" height="33.25" fill="#000000" stroke="#000000" stroke-width="0.7"/>
<rect x="199.20" y="452.45" width="3.90" height="1.85" fill="#858585" stroke="#4a4a4a" stroke-width="0.7"/>
<line x1="207.50" y1="446.90" x2="207.50" y2="450.50" stroke="#8c8c8c" stroke-width="1"/>
<line x1="206.10" y1="446.90" x2="208.90" y2="446.90" stroke="#8c8c8c" stroke-width="0.9"/>
<rect x="205.10" y="450.85" width="3.90" height="3.45" fill="#c4c4c4" stroke="#6a6a6a" stroke-width="0.7"/>
<line x1="212.50" y1="422.00" x2="212.50" y2="425.10" stroke="#8c8c8c" stroke-width="1"/>
<line x1="211.10" y1="422.00" x2="213.90" y2="422.00" stroke="#8c8c8c" stroke-width="0.9"/>
<rect x="211.00" y="425.45" width="3.90" height="28.85" fill="#ffffff" stroke="#7a7a7a" stroke-width="0.7"/>
<line x1="218.50" y1="358.20" x2="218.50" y2="380.50" stroke="#8c8c8c" stroke-width="1"/>
<line x1="217.10" y1="358.20" x2="219.90" y2="358.20" stroke="#8c8c8c" stroke-width="0.9"/>
<rect x="216.90" y="380.85" width="3.90" height="73.45" fill="#000000" stroke="#000000" stroke-width="0.7"/>
<text transform="translate(232.25,453.10) rotate(-90)" font-size="7.6" text-anchor="start" stroke="#111111" stroke-width="0.25">n.d</text>
<line x1="235.50" y1="448.10" x2="235.50" y2="450.00" stroke="#8c8c8c" stroke-width="1"/>
<line x1="234.10" y1="448.10" x2="236.90" y2="448.10" stroke="#8c8c8c" stroke-width="0.9"/>
<rect x="233.70" y="450.35" width="3.90" height="3.95" fill="#c4c4c4" stroke="#6a6a6a" stroke-width="0.7"/>
<line x1="241.50" y1="429.10" x2="241.50" y2="432.70" stroke="#8c8c8c" stroke-width="1"/>
<line x1="240.10" y1="429.10" x2="242.90" y2="429.10" stroke="#8c8c8c" stroke-width="0.9"/>
<rect x="239.60" y="433.05" width="3.90" height="21.25" fill="#ffffff" stroke="#7a7a7a" stroke-width="0.7"/>
<line x1="247.50" y1="404.20" x2="247.50" y2="411.80" stroke="#8c8c8c" stroke-width="1"/>
<line x1="246.10" y1="404.20" x2="248.90" y2="404.20" stroke="#8c8c8c" stroke-width="0.9"/>
<rect x="245.50" y="412.15" width="3.90" height="42.15" fill="#000000" stroke="#000000" stroke-width="0.7"/>
<rect x="256.40" y="452.45" width="3.90" height="1.85" fill="#858585" stroke="#4a4a4a" stroke-width="0.7"/>
<text transform="translate(266.75,453.10) rotate(-90)" font-size="7.6" text-anchor="start" stroke="#111111" stroke-width="0.25">n.d</text>
<line x1="270.50" y1="426.80" x2="270.50" y2="429.10" stroke="#8c8c8c" stroke-width="1"/>
<line x1="269.10" y1="426.80" x2="271.90" y2="426.80" stroke="#8c8c8c" stroke-width="0.9"/>
<rect x="268.20" y="429.45" width="3.90" height="24.85" fill="#ffffff" stroke="#7a7a7a" stroke-width="0.7"/>
<line x1="276.50" y1="433.90" x2="276.50" y2="437.00" stroke="#8c8c8c" stroke-width="1"/>
<line x1="275.10" y1="433.90" x2="277.90" y2="433.90" stroke="#8c8c8c" stroke-width="0.9"/>
<rect x="274.10" y="437.35" width="3.90" height="16.95" fill="#000000" stroke="#000000" stroke-width="0.7"/>
<path class="st" d="M133.90 423.40L134.35 420.70A0.85 0.85 0 0 0 132.65 420.70L133.10 423.40ZM133.62 423.78L136.33 423.37A0.85 0.85 0 0 0 135.81 421.76L133.38 423.02ZM133.18 423.64L134.40 426.08A0.85 0.85 0 0 0 135.77 425.08L133.82 423.16ZM133.18 423.16L131.23 425.08A0.85 0.85 0 0 0 132.60 426.08L133.82 423.64ZM133.62 423.02L131.19 421.76A0.85 0.85 0 0 0 130.67 423.37L133.38 423.78Z" fill="#000"/>
<path class="st" d="M162.30 395.40L162.75 392.70A0.85 0.85 0 0 0 161.05 392.70L161.50 395.40ZM162.02 395.78L164.73 395.37A0.85 0.85 0 0 0 164.21 393.76L161.78 395.02ZM161.58 395.64L162.80 398.08A0.85 0.85 0 0 0 164.17 397.08L162.22 395.16ZM161.58 395.16L159.63 397.08A0.85 0.85 0 0 0 161.00 398.08L162.22 395.64ZM162.02 395.02L159.59 393.76A0.85 0.85 0 0 0 159.07 395.37L161.78 395.78Z" fill="#000"/>
<path class="st" d="M219.80 351.90L220.25 349.20A0.85 0.85 0 0 0 218.55 349.20L219.00 351.90ZM219.52 352.28L222.23 351.87A0.85 0.85 0 0 0 221.71 350.26L219.28 351.52ZM219.08 352.14L220.30 354.58A0.85 0.85 0 0 0 221.67 353.58L219.72 351.66ZM219.08 351.66L217.13 353.58A0.85 0.85 0 0 0 218.50 354.58L219.72 352.14ZM219.52 351.52L217.09 350.26A0.85 0.85 0 0 0 216.57 351.87L219.28 352.28Z" fill="#000"/>
<path class="st" d="M248.70 398.20L249.15 395.50A0.85 0.85 0 0 0 247.45 395.50L247.90 398.20ZM248.42 398.58L251.13 398.17A0.85 0.85 0 0 0 250.61 396.56L248.18 397.82ZM247.98 398.44L249.20 400.88A0.85 0.85 0 0 0 250.57 399.88L248.62 397.96ZM247.98 397.96L246.03 399.88A0.85 0.85 0 0 0 247.40 400.88L248.62 398.44ZM248.42 397.82L245.99 396.56A0.85 0.85 0 0 0 245.47 398.17L248.18 398.58Z" fill="#000"/>
<text x="96.4" y="469.9" font-size="10.4" text-anchor="middle" >3</text>
<text x="125.0" y="469.9" font-size="10.4" text-anchor="middle" >6</text>
<text x="153.60000000000002" y="469.9" font-size="10.4" text-anchor="middle" >9</text>
<text x="182.20000000000002" y="469.9" font-size="10.4" text-anchor="middle" ><tspan class="one">1</tspan>2</text>
<g><path d="M763 0L583 0L583 1098Q518 1039 415 981Q312 923 222 890L222 1057Q373 1125 484.5 1221Q596 1317 648 1409L763 1409Z" transform="translate(176.419,469.900) scale(0.005078,-0.005078)"/></g>
<text x="210.8" y="469.9" font-size="10.4" text-anchor="middle" ><tspan class="one">1</tspan>6</text>
<g><path d="M763 0L583 0L583 1098Q518 1039 415 981Q312 923 222 890L222 1057Q373 1125 484.5 1221Q596 1317 648 1409L763 1409Z" transform="translate(205.019,469.900) scale(0.005078,-0.005078)"/></g>
<text x="239.4" y="469.9" font-size="10.4" text-anchor="middle" >20</text>
<text x="268.0" y="469.9" font-size="10.4" text-anchor="middle" >24</text>
<text x="181.5" y="483.2" font-size="11.85" text-anchor="middle" >Hour Post Treatment</text>
<text x="179.9" y="341.2" font-size="10.6" text-anchor="middle" >6Gy TBI</text>
<text transform="translate(31.9,397.6) rotate(-90)" font-size="11.7" text-anchor="middle" >Intestinal IL-<tspan class="one">1</tspan>α (pg/mg)</text>
<g transform="translate(31.9,397.6) rotate(-90)"><path d="M763 0L583 0L583 1098Q518 1039 415 981Q312 923 222 890L222 1057Q373 1125 484.5 1221Q596 1317 648 1409L763 1409Z" transform="translate(3.438,0.000) scale(0.005713,-0.005713)"/></g>
<text x="1.2" y="338.8" font-size="14" text-anchor="start" font-weight="bold" fill="#000">D</text>
<rect x="360.45" y="174.05" width="157.35" height="110.25" fill="none" stroke="#808080" stroke-width="1.2"/>
<line x1="358.45" y1="284.30" x2="360.45" y2="284.30" stroke="#808080" stroke-width="1"/>
<text x="353.4" y="287.90" font-size="10.4" text-anchor="end">0</text>
<line x1="358.45" y1="270.52" x2="360.45" y2="270.52" stroke="#808080" stroke-width="1"/>
<text x="353.4" y="274.12" font-size="10.4" text-anchor="end">200</text>
<line x1="358.45" y1="256.74" x2="360.45" y2="256.74" stroke="#808080" stroke-width="1"/>
<text x="353.4" y="260.34" font-size="10.4" text-anchor="end">400</text>
<line x1="358.45" y1="242.96" x2="360.45" y2="242.96" stroke="#808080" stroke-width="1"/>
<text x="353.4" y="246.56" font-size="10.4" text-anchor="end">600</text>
<line x1="358.45" y1="229.18" x2="360.45" y2="229.18" stroke="#808080" stroke-width="1"/>
<text x="353.4" y="232.78" font-size="10.4" text-anchor="end">800</text>
<line x1="358.45" y1="215.39" x2="360.45" y2="215.39" stroke="#808080" stroke-width="1"/>
<text x="353.4" y="218.99" font-size="10.4" text-anchor="end"><tspan class="one">1</tspan>000</text>
<g><path d="M763 0L583 0L583 1098Q518 1039 415 981Q312 923 222 890L222 1057Q373 1125 484.5 1221Q596 1317 648 1409L763 1409Z" transform="translate(330.275,218.990) scale(0.005078,-0.005078)"/></g>
<line x1="358.45" y1="201.61" x2="360.45" y2="201.61" stroke="#808080" stroke-width="1"/>
<text x="353.4" y="205.21" font-size="10.4" text-anchor="end"><tspan class="one">1</tspan>200</text>
<g><path d="M763 0L583 0L583 1098Q518 1039 415 981Q312 923 222 890L222 1057Q373 1125 484.5 1221Q596 1317 648 1409L763 1409Z" transform="translate(330.275,205.210) scale(0.005078,-0.005078)"/></g>
<line x1="358.45" y1="187.83" x2="360.45" y2="187.83" stroke="#808080" stroke-width="1"/>
<text x="353.4" y="191.43" font-size="10.4" text-anchor="end"><tspan class="one">1</tspan>400</text>
<g><path d="M763 0L583 0L583 1098Q518 1039 415 981Q312 923 222 890L222 1057Q373 1125 484.5 1221Q596 1317 648 1409L763 1409Z" transform="translate(330.275,191.430) scale(0.005078,-0.005078)"/></g>
<line x1="358.45" y1="174.05" x2="360.45" y2="174.05" stroke="#808080" stroke-width="1"/>
<text x="353.4" y="177.65" font-size="10.4" text-anchor="end"><tspan class="one">1</tspan>600</text>
<g><path d="M763 0L583 0L583 1098Q518 1039 415 981Q312 923 222 890L222 1057Q373 1125 484.5 1221Q596 1317 648 1409L763 1409Z" transform="translate(330.275,177.650) scale(0.005078,-0.005078)"/></g>
<line x1="379.15" y1="181.30" x2="379.15" y2="193.20" stroke="#b5b5b5" stroke-width="1"/>
<line x1="377.65" y1="181.30" x2="380.65" y2="181.30" stroke="#b5b5b5" stroke-width="1"/>
<rect x="375.70" y="193.60" width="6.90" height="90.70" fill="#8a8a8a" stroke="#5a5a5a" stroke-width="0.8"/>
<line x1="389.00" y1="182.50" x2="389.00" y2="190.20" stroke="#b5b5b5" stroke-width="1"/>
<line x1="387.50" y1="182.50" x2="390.50" y2="182.50" stroke="#b5b5b5" stroke-width="1"/>
<rect x="385.30" y="190.60" width="7.40" height="93.70" fill="#9a9a9a" stroke="#000" stroke-width="0.8"/>
<clipPath id="c1"><rect x="384.90" y="190.20" width="8.20" height="94.10"/></clipPath>
<g clip-path="url(#c1)" stroke="#000" stroke-width="1.4">
<line x1="383.90" y1="191.35" x2="394.10" y2="184.72"/>
<line x1="383.90" y1="203.65" x2="394.10" y2="197.02"/>
<line x1="383.90" y1="215.95" x2="394.10" y2="209.32"/>
<line x1="383.90" y1="228.25" x2="394.10" y2="221.62"/>
<line x1="383.90" y1="240.55" x2="394.10" y2="233.92"/>
<line x1="383.90" y1="252.85" x2="394.10" y2="246.22"/>
<line x1="383.90" y1="265.15" x2="394.10" y2="258.52"/>
<line x1="383.90" y1="277.45" x2="394.10" y2="270.82"/>
<line x1="383.90" y1="289.75" x2="394.10" y2="283.12"/>
</g>
<rect x="385.35" y="190.65" width="7.30" height="93.65" fill="none" stroke="#000" stroke-width="1.1"/>
<line x1="398.75" y1="253.70" x2="398.75" y2="263.80" stroke="#b5b5b5" stroke-width="1"/>
<line x1="397.25" y1="253.70" x2="400.25" y2="253.70" stroke="#b5b5b5" stroke-width="1"/>
<rect x="395.20" y="264.20" width="7.10" height="20.10" fill="#fff" stroke="#9a9a9a" stroke-width="0.8"/>
<line x1="408.30" y1="263.10" x2="408.30" y2="268.50" stroke="#b5b5b5" stroke-width="1"/>
<line x1="406.80" y1="263.10" x2="409.80" y2="263.10" stroke="#b5b5b5" stroke-width="1"/>
<rect x="404.60" y="268.90" width="7.40" height="15.40" fill="#fff" stroke="#000" stroke-width="0.8"/>
<clipPath id="c2"><rect x="404.20" y="268.50" width="8.20" height="15.80"/></clipPath>
<g clip-path="url(#c2)" stroke="#000" stroke-width="1.4">
<line x1="403.20" y1="271.45" x2="413.40" y2="262.78"/>
<line x1="403.20" y1="283.45" x2="413.40" y2="274.78"/>
<line x1="403.20" y1="295.45" x2="413.40" y2="286.78"/>
</g>
<rect x="404.65" y="268.95" width="7.30" height="15.35" fill="none" stroke="#000" stroke-width="1.1"/>
<line x1="417.70" y1="220.40" x2="417.70" y2="226.60" stroke="#b5b5b5" stroke-width="1"/>
<line x1="416.20" y1="220.40" x2="419.20" y2="220.40" stroke="#b5b5b5" stroke-width="1"/>
<rect x="414.20" y="227.00" width="7.00" height="57.30" fill="#000" stroke="#000" stroke-width="0.8"/>
<line x1="427.55" y1="241.40" x2="427.55" y2="247.30" stroke="#b5b5b5" stroke-width="1"/>
<line x1="426.05" y1="241.40" x2="429.05" y2="241.40" stroke="#b5b5b5" stroke-width="1"/>
<rect x="424.30" y="247.70" width="6.50" height="36.60" fill="#000" stroke="#000" stroke-width="0.8"/>
<clipPath id="c3"><rect x="423.90" y="247.30" width="7.30" height="37.00"/></clipPath>
<g clip-path="url(#c3)" stroke="#fff" stroke-width="1.7">
<line x1="422.90" y1="255.65" x2="432.20" y2="247.75"/>
<line x1="422.90" y1="267.25" x2="432.20" y2="259.35"/>
<line x1="422.90" y1="278.85" x2="432.20" y2="270.95"/>
<line x1="422.90" y1="290.45" x2="432.20" y2="282.55"/>
</g>
<rect x="424.35" y="247.75" width="6.40" height="36.55" fill="none" stroke="#000" stroke-width="1.1"/>
<line x1="451.00" y1="186.40" x2="451.00" y2="200.20" stroke="#b5b5b5" stroke-width="1"/>
<line x1="449.50" y1="186.40" x2="452.50" y2="186.40" stroke="#b5b5b5" stroke-width="1"/>
<rect x="447.40" y="200.60" width="7.20" height="83.70" fill="#8a8a8a" stroke="#5a5a5a" stroke-width="0.8"/>
<line x1="460.50" y1="191.80" x2="460.50" y2="202.70" stroke="#b5b5b5" stroke-width="1"/>
<line x1="459.00" y1="191.80" x2="462.00" y2="191.80" stroke="#b5b5b5" stroke-width="1"/>
<rect x="456.80" y="203.10" width="7.40" height="81.20" fill="#9a9a9a" stroke="#000" stroke-width="0.8"/>
<clipPath id="c4"><rect x="456.40" y="202.70" width="8.20" height="81.60"/></clipPath>
<g clip-path="url(#c4)" stroke="#000" stroke-width="1.4">
<line x1="455.40" y1="206.90" x2="465.60" y2="198.74"/>
<line x1="455.40" y1="219.20" x2="465.60" y2="211.04"/>
<line x1="455.40" y1="231.50" x2="465.60" y2="223.34"/>
<line x1="455.40" y1="243.80" x2="465.60" y2="235.64"/>
<line x1="455.40" y1="256.10" x2="465.60" y2="247.94"/>
<line x1="455.40" y1="268.40" x2="465.60" y2="260.24"/>
<line x1="455.40" y1="280.70" x2="465.60" y2="272.54"/>
<line x1="455.40" y1="293.00" x2="465.60" y2="284.84"/>
</g>
<rect x="456.85" y="203.15" width="7.30" height="81.15" fill="none" stroke="#000" stroke-width="1.1"/>
<line x1="470.55" y1="206.60" x2="470.55" y2="219.20" stroke="#b5b5b5" stroke-width="1"/>
<line x1="469.05" y1="206.60" x2="472.05" y2="206.60" stroke="#b5b5b5" stroke-width="1"/>
<rect x="467.10" y="219.60" width="6.90" height="64.70" fill="#fff" stroke="#9a9a9a" stroke-width="0.8"/>
<line x1="479.75" y1="219.40" x2="479.75" y2="230.20" stroke="#b5b5b5" stroke-width="1"/>
<line x1="478.25" y1="219.40" x2="481.25" y2="219.40" stroke="#b5b5b5" stroke-width="1"/>
<rect x="476.20" y="230.60" width="7.10" height="53.70" fill="#fff" stroke="#000" stroke-width="0.8"/>
<clipPath id="c5"><rect x="475.80" y="230.20" width="7.90" height="54.10"/></clipPath>
<g clip-path="url(#c5)" stroke="#000" stroke-width="1.4">
<line x1="474.80" y1="240.75" x2="484.70" y2="231.35"/>
<line x1="474.80" y1="252.75" x2="484.70" y2="243.35"/>
<line x1="474.80" y1="264.75" x2="484.70" y2="255.35"/>
<line x1="474.80" y1="276.75" x2="484.70" y2="267.35"/>
<line x1="474.80" y1="288.75" x2="484.70" y2="279.35"/>
</g>
<rect x="476.25" y="230.65" width="7.00" height="53.65" fill="none" stroke="#000" stroke-width="1.1"/>
<line x1="489.75" y1="184.20" x2="489.75" y2="198.00" stroke="#b5b5b5" stroke-width="1"/>
<line x1="488.25" y1="184.20" x2="491.25" y2="184.20" stroke="#b5b5b5" stroke-width="1"/>
<rect x="486.20" y="198.40" width="7.10" height="85.90" fill="#000" stroke="#000" stroke-width="0.8"/>
<line x1="499.15" y1="196.30" x2="499.15" y2="206.80" stroke="#b5b5b5" stroke-width="1"/>
<line x1="497.65" y1="196.30" x2="500.65" y2="196.30" stroke="#b5b5b5" stroke-width="1"/>
<rect x="496.10" y="207.20" width="6.10" height="77.10" fill="#000" stroke="#000" stroke-width="0.8"/>
<clipPath id="c6"><rect x="495.70" y="206.80" width="6.90" height="77.50"/></clipPath>
<g clip-path="url(#c6)" stroke="#fff" stroke-width="1.7">
<line x1="494.70" y1="212.15" x2="503.60" y2="204.58"/>
<line x1="494.70" y1="223.65" x2="503.60" y2="216.08"/>
<line x1="494.70" y1="235.15" x2="503.60" y2="227.58"/>
<line x1="494.70" y1="246.65" x2="503.60" y2="239.08"/>
<line x1="494.70" y1="258.15" x2="503.60" y2="250.58"/>
<line x1="494.70" y1="269.65" x2="503.60" y2="262.08"/>
<line x1="494.70" y1="281.15" x2="503.60" y2="273.58"/>
<line x1="494.70" y1="292.65" x2="503.60" y2="285.08"/>
</g>
<rect x="496.15" y="207.25" width="6.00" height="77.05" fill="none" stroke="#000" stroke-width="1.1"/>
<line x1="403.40" y1="284.30" x2="403.40" y2="286.30" stroke="#808080" stroke-width="0.8"/>
<line x1="475.30" y1="284.30" x2="475.30" y2="286.30" stroke="#808080" stroke-width="0.8"/>
<path class="st" d="M418.70 216.20L419.15 213.50A0.85 0.85 0 0 0 417.45 213.50L417.90 216.20ZM418.42 216.58L421.13 216.17A0.85 0.85 0 0 0 420.61 214.56L418.18 215.82ZM417.98 216.44L419.20 218.88A0.85 0.85 0 0 0 420.57 217.88L418.62 215.96ZM417.98 215.96L416.03 217.88A0.85 0.85 0 0 0 417.40 218.88L418.62 216.44ZM418.42 215.82L415.99 214.56A0.85 0.85 0 0 0 415.47 216.17L418.18 216.58Z" fill="#000"/>
<path d="M426.2 226.6h1.9l-0.2 9.6h-1.5z M424.7 228.3h5.2v1.6h-5.2z" fill="#000"/>
<text x="404.4" y="298.3" font-size="10.4" text-anchor="middle" >7</text>
<text x="475.9" y="298.3" font-size="10.4" text-anchor="middle" ><tspan class="one">1</tspan>4</text>
<g><path d="M763 0L583 0L583 1098Q518 1039 415 981Q312 923 222 890L222 1057Q373 1125 484.5 1221Q596 1317 648 1409L763 1409Z" transform="translate(470.119,298.300) scale(0.005078,-0.005078)"/></g>
<text x="440" y="312.4" font-size="11.7" text-anchor="middle" >Day Post Treatment</text>
<text x="441.1" y="171.5" font-size="10.6" text-anchor="middle" >3Gy TBI; rmIL-<tspan class="one">1</tspan>Ra (hatched)</text>
<g><path d="M763 0L583 0L583 1098Q518 1039 415 981Q312 923 222 890L222 1057Q373 1125 484.5 1221Q596 1317 648 1409L763 1409Z" transform="translate(442.155,171.500) scale(0.005176,-0.005176)"/></g>
<text transform="translate(324.5,230.5) rotate(-90)" font-size="11.7" text-anchor="middle"># Ly6G<tspan font-size="7.5" dy="-4.5">+</tspan><tspan dy="4.5"> Cells/mm</tspan><tspan font-size="7.5" dy="-4.5">3</tspan></text>
<text x="301.3" y="170.1" font-size="14" text-anchor="start" font-weight="bold" fill="#000">E</text>
<rect x="341.4" y="378.40" width="23.8" height="3.4" fill="#6e6e6e" stroke="#3a3a3a" stroke-width="0.9"/>
<text x="371.3" y="383.7" font-size="10.5" text-anchor="start" >NT</text>
<rect x="341.4" y="391.80" width="23.8" height="3.4" fill="#c8c8c8" stroke="#666666" stroke-width="0.9"/>
<text x="371.3" y="397.09999999999997" font-size="10.5" text-anchor="start" >Heat</text>
<rect x="341.4" y="405.30" width="23.8" height="3.4" fill="#ffffff" stroke="#7a7a7a" stroke-width="0.9"/>
<text x="371.3" y="410.59999999999997" font-size="10.5" text-anchor="start" >TBI</text>
<rect x="341.4" y="418.40" width="23.8" height="3.4" fill="#000" stroke="#000" stroke-width="0.9"/>
<text x="371.3" y="423.7" font-size="10.5" text-anchor="start" >TBI + Heat</text>
</svg></body></html>
